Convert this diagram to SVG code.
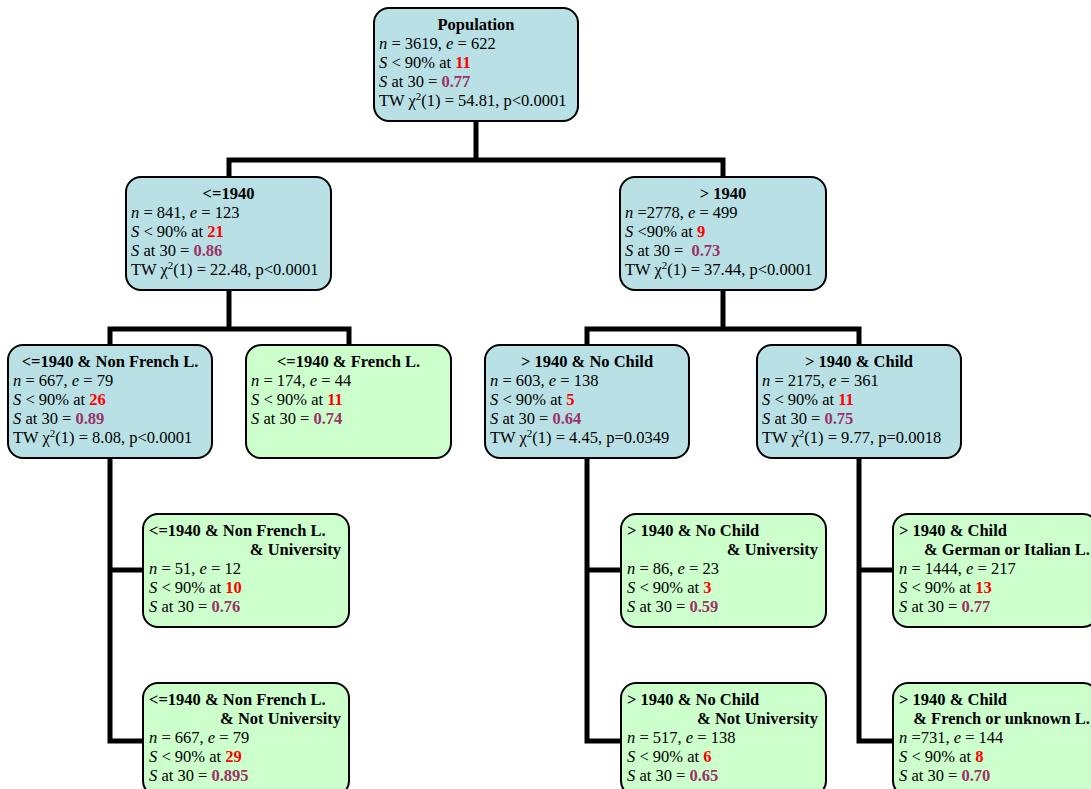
<svg xmlns="http://www.w3.org/2000/svg" width="1091" height="789" viewBox="0 0 1091 789">
<style>
.bb{fill:#B9E0E4;stroke:#000;stroke-width:2}
.bg{fill:#CCFFCC;stroke:#000;stroke-width:2}
text{font-family:"Liberation Serif","Times New Roman",serif;font-size:16.5px;fill:#000}
.h{font-weight:bold}
.c{text-anchor:middle}
.e{text-anchor:end}
.i{font-style:italic}
.r{fill:#FF0000;font-weight:bold}
.p{fill:#993366;font-weight:bold}
.s{font-size:11px}
.conn{fill:none;stroke:#000;stroke-width:5;stroke-linejoin:miter;stroke-linecap:butt}
</style>
<rect width="1091" height="789" fill="#fff"/>
<g id="connectors" class="conn">
<path d="M476,121 V160 M229,177 V160 H723 V177"/>
<path d="M229,290 V329 M110,345 V329 H349 V345"/>
<path d="M723,290 V329 M587,345 V329 H859 V345"/>
<path d="M110,458 V741 H143 M110,570 H143"/>
<path d="M587,458 V741 H621 M587,570 H621"/>
<path d="M859,458 V741 H893 M859,570 H893"/>
</g>
<g id="population">
<rect class="bb" x="374" y="8" width="204" height="113" rx="15"/>
<text class="h c" x="476" y="30">Population</text>
<text x="379" y="49"><tspan class="i">n</tspan> = 3619, <tspan class="i">e</tspan> = 622</text>
<text x="379" y="68"><tspan class="i">S</tspan> &lt; 90% at <tspan class="r">11</tspan></text>
<text x="379" y="87"><tspan class="i">S</tspan> at 30 = <tspan class="p">0.77</tspan></text>
<text x="379" y="106">TW χ<tspan class="s" dy="-6">2</tspan><tspan dy="6">(1) = 54.81, p&lt;0.0001</tspan></text>
</g>
<g id="le1940">
<rect class="bb" x="126" y="177" width="205" height="113" rx="15"/>
<text class="h c" x="228.5" y="199">&lt;=1940</text>
<text x="131" y="218"><tspan class="i">n</tspan> = 841, <tspan class="i">e</tspan> = 123</text>
<text x="131" y="237"><tspan class="i">S</tspan> &lt; 90% at <tspan class="r">21</tspan></text>
<text x="131" y="256"><tspan class="i">S</tspan> at 30 = <tspan class="p">0.86</tspan></text>
<text x="131" y="275">TW χ<tspan class="s" dy="-6">2</tspan><tspan dy="6">(1) = 22.48, p&lt;0.0001</tspan></text>
</g>
<g id="gt1940">
<rect class="bb" x="620" y="177" width="206" height="113" rx="15"/>
<text class="h c" x="723" y="199">&gt; 1940</text>
<text x="625" y="218"><tspan class="i">n</tspan> =2778, <tspan class="i">e</tspan> = 499</text>
<text x="625" y="237"><tspan class="i">S</tspan> &lt;90% at <tspan class="r">9</tspan></text>
<text x="625" y="256"><tspan class="i">S</tspan> at 30 = <tspan class="p" dx="4">0.73</tspan></text>
<text x="625" y="275">TW χ<tspan class="s" dy="-6">2</tspan><tspan dy="6">(1) = 37.44, p&lt;0.0001</tspan></text>
</g>
<g id="le1940_nonfrench">
<rect class="bb" x="8" y="345" width="204" height="113" rx="15"/>
<text class="h c" x="110" y="367">&lt;=1940 &amp; Non French L.</text>
<text x="13" y="386"><tspan class="i">n</tspan> = 667, <tspan class="i">e</tspan> = 79</text>
<text x="13" y="405"><tspan class="i">S</tspan> &lt; 90% at <tspan class="r">26</tspan></text>
<text x="13" y="424"><tspan class="i">S</tspan> at 30 = <tspan class="p">0.89</tspan></text>
<text x="13" y="443">TW χ<tspan class="s" dy="-6">2</tspan><tspan dy="6">(1) = 8.08, p&lt;0.0001</tspan></text>
</g>
<g id="le1940_french">
<rect class="bg" x="246" y="345" width="205" height="113" rx="15"/>
<text class="h c" x="348.5" y="367">&lt;=1940 &amp; French L.</text>
<text x="251" y="386"><tspan class="i">n</tspan> = 174, <tspan class="i">e</tspan> = 44</text>
<text x="251" y="405"><tspan class="i">S</tspan> &lt; 90% at <tspan class="r">11</tspan></text>
<text x="251" y="424"><tspan class="i">S</tspan> at 30 = <tspan class="p">0.74</tspan></text>
</g>
<g id="gt1940_nochild">
<rect class="bb" x="485" y="345" width="204" height="113" rx="15"/>
<text class="h c" x="587" y="367">&gt; 1940 &amp; No Child</text>
<text x="490" y="386"><tspan class="i">n</tspan> = 603, <tspan class="i">e</tspan> = 138</text>
<text x="490" y="405"><tspan class="i">S</tspan> &lt; 90% at <tspan class="r">5</tspan></text>
<text x="490" y="424"><tspan class="i">S</tspan> at 30 = <tspan class="p">0.64</tspan></text>
<text x="490" y="443">TW χ<tspan class="s" dy="-6">2</tspan><tspan dy="6">(1) = 4.45, p=0.0349</tspan></text>
</g>
<g id="gt1940_child">
<rect class="bb" x="757" y="345" width="204" height="113" rx="15"/>
<text class="h c" x="859" y="367">&gt; 1940 &amp; Child</text>
<text x="762" y="386"><tspan class="i">n</tspan> = 2175, <tspan class="i">e</tspan> = 361</text>
<text x="762" y="405"><tspan class="i">S</tspan> &lt; 90% at <tspan class="r">11</tspan></text>
<text x="762" y="424"><tspan class="i">S</tspan> at 30 = <tspan class="p">0.75</tspan></text>
<text x="762" y="443">TW χ<tspan class="s" dy="-6">2</tspan><tspan dy="6">(1) = 9.77, p=0.0018</tspan></text>
</g>
<g id="le1940_nonfrench_univ">
<rect class="bg" x="143" y="514" width="206" height="113" rx="15"/>
<text class="h" x="149" y="536">&lt;=1940 &amp; Non French L.</text>
<text class="h e" x="341" y="555">&amp; University</text>
<text x="149" y="574"><tspan class="i">n</tspan> = 51, <tspan class="i">e</tspan> = 12</text>
<text x="149" y="593"><tspan class="i">S</tspan> &lt; 90% at <tspan class="r">10</tspan></text>
<text x="149" y="612"><tspan class="i">S</tspan> at 30 = <tspan class="p">0.76</tspan></text>
</g>
<g id="le1940_nonfrench_notuniv">
<rect class="bg" x="143" y="683" width="206" height="113" rx="15"/>
<text class="h" x="149" y="705">&lt;=1940 &amp; Non French L.</text>
<text class="h e" x="341" y="724">&amp; Not University</text>
<text x="149" y="743"><tspan class="i">n</tspan> = 667, <tspan class="i">e</tspan> = 79</text>
<text x="149" y="762"><tspan class="i">S</tspan> &lt; 90% at <tspan class="r">29</tspan></text>
<text x="149" y="781"><tspan class="i">S</tspan> at 30 = <tspan class="p">0.895</tspan></text>
</g>
<g id="gt1940_nochild_univ">
<rect class="bg" x="621" y="514" width="205" height="113" rx="15"/>
<text class="h" x="627" y="536">&gt; 1940 &amp; No Child</text>
<text class="h e" x="818" y="555">&amp; University</text>
<text x="627" y="574"><tspan class="i">n</tspan> = 86, <tspan class="i">e</tspan> = 23</text>
<text x="627" y="593"><tspan class="i">S</tspan> &lt; 90% at <tspan class="r">3</tspan></text>
<text x="627" y="612"><tspan class="i">S</tspan> at 30 = <tspan class="p">0.59</tspan></text>
</g>
<g id="gt1940_nochild_notuniv">
<rect class="bg" x="621" y="683" width="205" height="113" rx="15"/>
<text class="h" x="627" y="705">&gt; 1940 &amp; No Child</text>
<text class="h e" x="818" y="724">&amp; Not University</text>
<text x="627" y="743"><tspan class="i">n</tspan> = 517, <tspan class="i">e</tspan> = 138</text>
<text x="627" y="762"><tspan class="i">S</tspan> &lt; 90% at <tspan class="r">6</tspan></text>
<text x="627" y="781"><tspan class="i">S</tspan> at 30 = <tspan class="p">0.65</tspan></text>
</g>
<g id="gt1940_child_germanitalian">
<rect class="bg" x="893" y="514" width="205" height="113" rx="15"/>
<text class="h" x="899" y="536">&gt; 1940 &amp; Child</text>
<text class="h e" x="1090" y="555">&amp; German or Italian L.</text>
<text x="899" y="574"><tspan class="i">n</tspan> = 1444, <tspan class="i">e</tspan> = 217</text>
<text x="899" y="593"><tspan class="i">S</tspan> &lt; 90% at <tspan class="r">13</tspan></text>
<text x="899" y="612"><tspan class="i">S</tspan> at 30 = <tspan class="p">0.77</tspan></text>
</g>
<g id="gt1940_child_frenchunknown">
<rect class="bg" x="893" y="683" width="205" height="113" rx="15"/>
<text class="h" x="899" y="705">&gt; 1940 &amp; Child</text>
<text class="h e" x="1090" y="724">&amp; French or unknown L.</text>
<text x="899" y="743"><tspan class="i">n</tspan> =731, <tspan class="i">e</tspan> = 144</text>
<text x="899" y="762"><tspan class="i">S</tspan> &lt; 90% at <tspan class="r">8</tspan></text>
<text x="899" y="781"><tspan class="i">S</tspan> at 30 = <tspan class="p">0.70</tspan></text>
</g>
</svg>
